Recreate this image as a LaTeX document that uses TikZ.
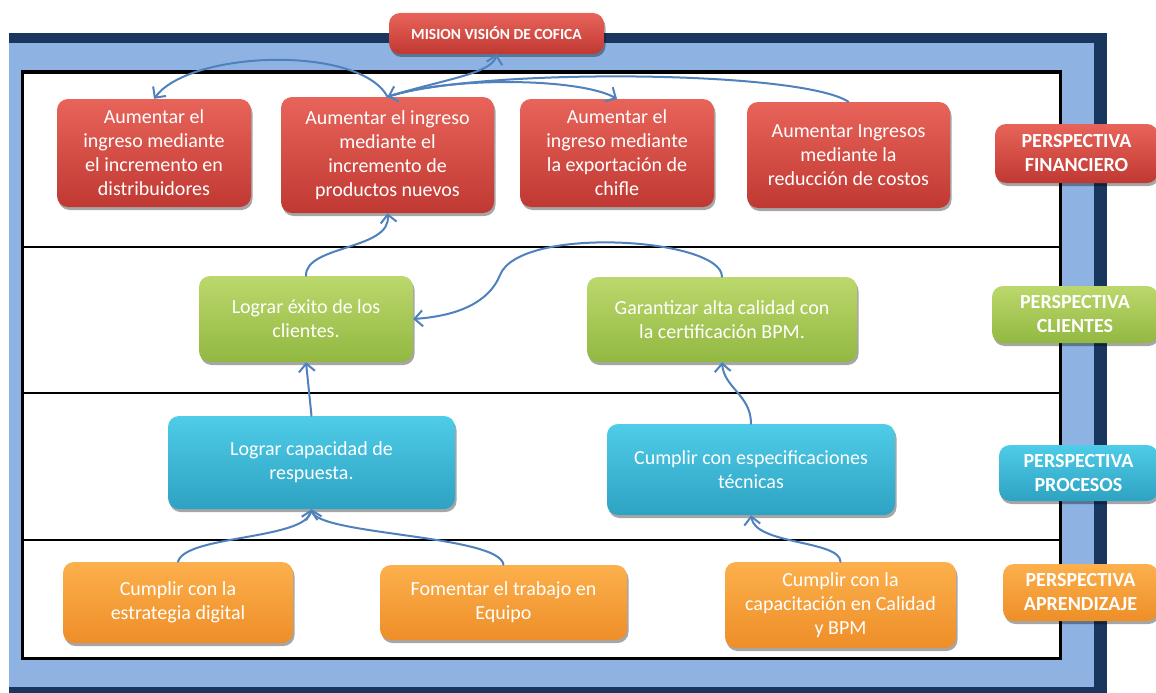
\documentclass[tikz,border=0pt]{standalone}
\usepackage{fontspec}
\setmainfont{Carlito}
\usetikzlibrary{arrows.meta,shadows}

\definecolor{navy}{RGB}{24,54,94}
\definecolor{frameblue}{RGB}{142,179,226}
\definecolor{linkblue}{RGB}{79,129,189}
\definecolor{redtop}{RGB}{232,100,90}
\definecolor{redbot}{RGB}{192,56,50}
\definecolor{greentop}{RGB}{188,216,108}
\definecolor{greenbot}{RGB}{146,184,66}
\definecolor{aquatop}{RGB}{78,204,232}
\definecolor{aquabot}{RGB}{46,162,194}
\definecolor{orangetop}{RGB}{252,176,76}
\definecolor{orangebot}{RGB}{238,142,40}

\tikzset{
  card/.style={rounded corners=11pt, inner sep=0pt, align=center, text=white,
    font=\fontsize{20}{24}\selectfont,
    drop shadow={shadow xshift=1.5pt, shadow yshift=-3pt, opacity=.35, fill=black}},
  finbox/.style={card, top color=redtop, bottom color=redbot},
  clibox/.style={card, top color=greentop, bottom color=greenbot},
  probox/.style={card, top color=aquatop, bottom color=aquabot},
  aprbox/.style={card, top color=orangetop, bottom color=orangebot},
  tag/.style={font=\bfseries\fontsize{20}{24}\selectfont},
  link/.style={draw=linkblue, line width=2pt, line cap=round,
    -{Straight Barb[length=8pt,width=16pt]}},
  divider/.style={draw=black, line width=2.5pt}
}

\begin{document}
\begin{tikzpicture}[x=1pt,y=-1pt]
\useasboundingbox (0,0) rectangle (1156,693);

% frame around the map
\fill[navy] (9,33) rectangle (1107,693);
\fill[frameblue] (9,43) rectangle (1094,687);
\draw[black, line width=3pt, fill=white] (22,72) rectangle (1060,658);
\draw[divider] (22,247) -- (1060,247);
\draw[divider] (22,393) -- (1060,393);
\draw[divider] (22,540) -- (1060,540);

% mission / vision
\node[finbox, minimum width=215pt, minimum height=41pt,
      font=\bfseries\fontsize{15.5}{18}\selectfont] (m) at (496.5,33.5) {MISION VISIÓN DE COFICA};

% financial perspective
\node[finbox, minimum width=194pt, minimum height=108pt] (f1) at (154,153)
  {Aumentar el\\ingreso mediante\\el incremento en\\distribuidores};
\node[finbox, minimum width=213pt, minimum height=116pt] (f2) at (387.5,155)
  {Aumentar el ingreso\\mediante el\\incremento de\\productos nuevos};
\node[finbox, minimum width=194pt, minimum height=108pt] (f3) at (617,153)
  {Aumentar el\\ingreso mediante\\la exportación de\\chifle};
\node[finbox, minimum width=203pt, minimum height=106pt] (f4) at (848.5,155)
  {Aumentar Ingresos\\mediante la\\reducción de costos};

% customer perspective
\node[clibox, minimum width=214pt, minimum height=86pt] (c1) at (306,319)
  {Lograr éxito de los\\clientes.};
\node[clibox, minimum width=270pt, minimum height=85pt] (c2) at (722,319.5)
  {Garantizar alta calidad con\\la certificación BPM.};

% process perspective
\node[probox, minimum width=287pt, minimum height=93pt] (p1) at (311.5,462.5)
  {Lograr capacidad de\\respuesta.};
\node[probox, minimum width=288pt, minimum height=91pt] (p2) at (751,469.5)
  {Cumplir con especificaciones\\técnicas};

% learning perspective
\node[aprbox, minimum width=230pt, minimum height=81pt] (a1) at (178,602.5)
  {Cumplir con la\\estrategia digital};
\node[aprbox, minimum width=247pt, minimum height=75pt] (a2) at (503.5,602.5)
  {Fomentar el trabajo en\\Equipo};
\node[aprbox, minimum width=231pt, minimum height=86pt] (a3) at (840.5,605)
  {Cumplir con la\\capacitación en Calidad\\y BPM};

% perspective tags on the right
\node[finbox, tag, minimum width=163pt, minimum height=59pt] (t1) at (1076.5,153.5)
  {PERSPECTIVA\\FINANCIERO};
\node[clibox, tag, minimum width=166pt, minimum height=57pt] (t2) at (1075,314.5)
  {PERSPECTIVA\\CLIENTES};
\node[probox, tag, minimum width=159pt, minimum height=56pt] (t3) at (1078.5,473)
  {PERSPECTIVA\\PROCESOS};
\node[aprbox, tag, minimum width=155pt, minimum height=57pt] (t4) at (1080.5,592.5)
  {PERSPECTIVA\\APRENDIZAJE};

% cause-effect links
\draw[link] (f2.north) .. controls (360,45) and (190,50) .. (f1.north);
\draw[link] (f2.north) .. controls (440,80) and (492,74) .. (m.south);
\draw[link] (f2.north) .. controls (450,76) and (580,78) .. (f3.north);
\draw[link] (f4.north) .. controls (800,70) and (480,68) .. (f2.north);
\draw[link] (c1.north) .. controls (305,245) and (392,250) .. (f2.south);
\draw[link] (c2.north) .. controls (722,238) and (520,225) .. (500,275)
                        .. controls (492,295) and (470,315) .. (c1.east);
\draw[link] (p1.north) -- (c1.south);
\draw[link] (p2.north) .. controls (751,395) and (724,388) .. (c2.south);
\draw[link] (a1.north) .. controls (185,535) and (305,540) .. (p1.south);
\draw[link] (a2.north) .. controls (500,535) and (318,535) .. (p1.south);
\draw[link] (a3.north) .. controls (840,540) and (755,545) .. (p2.south);
\end{tikzpicture}
\end{document}
